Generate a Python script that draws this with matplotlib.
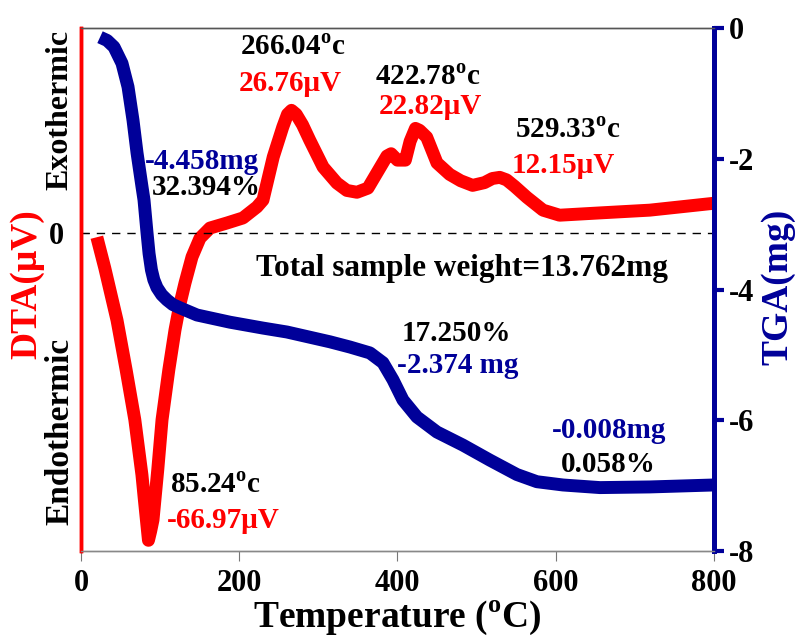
import matplotlib
matplotlib.use('Agg')
import matplotlib.pyplot as plt
import numpy as np

plt.rcParams['font.family'] = ['Liberation Serif', 'DejaVu Serif']
plt.rcParams['font.weight'] = 'bold'
plt.rcParams['axes.labelweight'] = 'bold'
plt.rcParams['mathtext.fontset'] = 'custom'
plt.rcParams['mathtext.rm'] = 'Liberation Serif:bold'
plt.rcParams['mathtext.bf'] = 'Liberation Serif:bold'

RED = '#ff0000'
NAVY = '#000099'

# DTA curve (temperature in C, signal in uV)
dta_T = [20, 30, 45.5, 57, 68, 77, 80, 83.5, 85.24, 88, 91, 97, 102.4, 111, 118.8, 125, 131.4,
         140.3, 150.4, 163, 184.5, 204.7, 222.4, 230, 243, 255, 261, 266.04, 272, 280, 289, 306,
         323.5, 336, 348.8, 362.7, 374, 386.7, 392, 400, 410, 416, 422.78, 428, 437, 450, 466,
         480, 495, 510, 520, 529.33, 538, 548, 563.6, 584, 605, 656, 719, 800]
dta_V = [-0.9, -7.6, -19.0, -29.8, -40.7, -52.7, -58.0, -64.0, -66.97, -65.0, -62.5, -51.6,
         -40.7, -29.8, -21.1, -15.5, -10.9, -5.2, -1.1, 1.1, 2.2, 3.3, 5.7, 7.2, 16.6, 23.1, 25.9,
         26.76, 25.9, 23.6, 20.3, 14.4, 10.9, 9.3, 8.9, 9.8, 13.1, 16.8, 17.3, 15.9, 15.9, 20.0,
         22.82, 22.4, 20.9, 15.3, 12.8, 11.4, 10.4, 11.0, 11.9, 12.15, 11.6, 10.2, 7.8, 5.0, 3.9,
         4.4, 5.0, 6.5]

# TGA curve (temperature in C, mass change in mg)
tga_T = [24, 33, 41.7, 51.8, 59.4, 65.7, 70.8, 77.1, 79.6, 83.4, 86, 89, 92, 96, 102, 108.7,
         116, 125.1, 146.6, 188.3, 230, 260.3, 314.7, 340, 365.2, 381.7, 394.3, 407, 424.6,
         449.9, 482.8, 516.9, 551, 576.3, 609.2, 656, 719, 800]
tga_M = [-0.14, -0.19, -0.29, -0.54, -0.90, -1.41, -1.91, -2.43, -2.63, -3.13, -3.45, -3.7,
         -3.85, -3.97, -4.08, -4.16, -4.23, -4.28, -4.39, -4.50, -4.59, -4.65, -4.80, -4.88,
         -4.97, -5.12, -5.38, -5.69, -5.95, -6.18, -6.38, -6.61, -6.83, -6.94, -6.99, -7.03,
         -7.02, -6.99]

x_ticks = [0, 200, 400, 600, 800]
tga_ticks = [0, -2, -4, -6, -8]

fig = plt.figure(figsize=(7.96, 6.37), dpi=100)
ax = fig.add_axes([0.1018, 0.135, 0.795, 0.821])
ax2 = ax.twinx()

ax.plot(dta_T, dta_V, color=RED, lw=9.3, solid_joinstyle='round', solid_capstyle='butt')
ax.axhline(0, color='black', lw=1, ls=(0, (6, 5)))
ax2.plot(tga_T, tga_M, color=NAVY, lw=9.3, solid_joinstyle='round', solid_capstyle='butt')

ax.set_xlim(0, 800)
ax.set_ylim(-69.3, 44.7)
ax2.set_ylim(-8, 0)

ax.set_xticks(x_ticks)
ax.set_yticks([0])
ax2.set_yticks(tga_ticks)
ax2.set_yticklabels([str(t) for t in tga_ticks])
ax.tick_params(axis='x', direction='out', length=7, color='#777777', labelsize=22, pad=6)
ax.tick_params(axis='y', direction='in', length=6, color='black', labelsize=22, pad=12)
ax2.tick_params(axis='y', direction='out', length=7, width=3, color=NAVY, labelsize=22, pad=4)

for a in (ax, ax2):
    a.spines['top'].set_color('#555555')
    a.spines['top'].set_linewidth(1)
    a.spines['bottom'].set_color('#888888')
    a.spines['bottom'].set_linewidth(1)
    a.spines['left'].set_color(RED)
    a.spines['left'].set_linewidth(2.5)
    a.spines['right'].set_color(NAVY)
    a.spines['right'].set_linewidth(3.5)

ax.set_xlabel('Temperature ($^{\\mathbf{o}}$C)', fontsize=27, fontweight='bold', labelpad=0)

fig.text(0.034, 0.554, 'DTA(\u03bcV)', color=RED, fontsize=27, rotation=90, ha='center', va='center')
fig.text(0.977, 0.549, 'TGA(mg)', color=NAVY, fontsize=27, rotation=90, ha='center', va='center')
fig.text(0.075, 0.827, 'Exothermic', color='black', fontsize=23, rotation=90, ha='center', va='center')
fig.text(0.075, 0.322, 'Endothermic', color='black', fontsize=24, rotation=90, ha='center', va='center')

fs = 21
deg = '$^{\\mathbf{o}}$c'
ax.text(268, 40.5, '266.04' + deg, color='black', fontsize=fs, ha='center', va='center')
ax.text(264, 32.7, '26.76\u03bcV', color=RED, fontsize=fs, ha='center', va='center')
ax.text(438.5, 34.0, '422.78' + deg, color='black', fontsize=fs, ha='center', va='center')
ax.text(442, 27.7, '22.82\u03bcV', color=RED, fontsize=fs, ha='center', va='center')
ax.text(615.5, 22.4, '529.33' + deg, color='black', fontsize=fs, ha='center', va='center')
ax.text(610, 14.8, '12.15\u03bcV', color=RED, fontsize=fs, ha='center', va='center')
ax.text(81, 15.5, '-4.458mg', color=NAVY, fontsize=fs, ha='left', va='center')
ax.text(90, 10.0, '32.394%', color='black', fontsize=fs, ha='left', va='center')
ax.text(481.5, -7.8, 'Total sample weight=13.762mg', color='black', fontsize=22.5, ha='center', va='center')
ax.text(475, -21.8, '17.250%', color='black', fontsize=fs, ha='center', va='center')
ax.text(476.5, -28.8, '-2.374 mg', color=NAVY, fontsize=fs, ha='center', va='center')
ax.text(667, -43.1, '-0.008mg', color=NAVY, fontsize=fs, ha='center', va='center')
ax.text(667, -50.5, '0.058%', color='black', fontsize=fs, ha='center', va='center')
ax.text(112.5, -54.9, '85.24' + deg, color='black', fontsize=fs, ha='left', va='center')
ax.text(108.7, -62.7, '-66.97\u03bcV', color=RED, fontsize=fs, ha='left', va='center')

fig.savefig('out.png', dpi=100)
